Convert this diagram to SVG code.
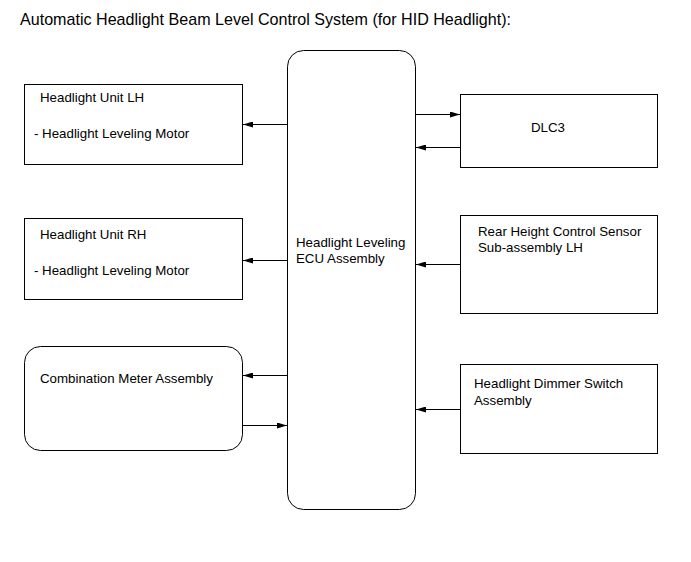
<svg xmlns="http://www.w3.org/2000/svg" width="691" height="562" viewBox="0 0 691 562">
<defs>
<marker id="ah" viewBox="0 0 10 6" refX="10" refY="3" markerWidth="10" markerHeight="6" markerUnits="userSpaceOnUse" orient="auto">
<path d="M0,0 L10,3 L0,6 Z" fill="#000"/>
</marker>
</defs>
<style>
.box{fill:#fff;stroke:#000;stroke-width:1}
.t{font-family:"Liberation Sans",Arial,sans-serif;font-size:13.3px;fill:#000}
.title{font-family:"Liberation Sans",Arial,sans-serif;font-size:16.1px;fill:#000}
.c{stroke:#000;stroke-width:1;fill:none;marker-end:url(#ah)}
</style>
<rect width="691" height="562" fill="#fff"/>
<text class="title" x="20" y="25">Automatic Headlight Beam Level Control System (for HID Headlight):</text>
<g id="ecu">
<rect class="box" x="287.5" y="50.5" width="128" height="459" rx="16" ry="16"/>
<text class="t" x="296" y="246.5">Headlight Leveling</text>
<text class="t" x="296" y="262.5">ECU Assembly</text>
</g>
<g id="headlight-lh">
<rect class="box" x="24.5" y="84.5" width="218" height="80"/>
<text class="t" x="40" y="102">Headlight Unit LH</text>
<text class="t" x="34" y="138">- Headlight Leveling Motor</text>
</g>
<g id="headlight-rh">
<rect class="box" x="24.5" y="218.5" width="218" height="81"/>
<text class="t" x="40" y="238.5">Headlight Unit RH</text>
<text class="t" x="34" y="274.5">- Headlight Leveling Motor</text>
</g>
<g id="combination-meter">
<rect class="box" x="24.5" y="346.5" width="218" height="104" rx="16" ry="16"/>
<text class="t" x="40" y="382.5">Combination Meter Assembly</text>
</g>
<g id="dlc3">
<rect class="box" x="460.5" y="94.5" width="197" height="73"/>
<text class="t" x="531" y="131.5">DLC3</text>
</g>
<g id="rear-height-sensor">
<rect class="box" x="460.5" y="215.5" width="197" height="98"/>
<text class="t" x="478" y="236">Rear Height Control Sensor</text>
<text class="t" x="478" y="252">Sub-assembly LH</text>
</g>
<g id="dimmer-switch">
<rect class="box" x="460.5" y="364.5" width="197" height="89"/>
<text class="t" x="474" y="388">Headlight Dimmer Switch</text>
<text class="t" x="474" y="404.5">Assembly</text>
</g>
<g id="connectors">
<line class="c" x1="287" y1="124.5" x2="243" y2="124.5"/>
<line class="c" x1="287" y1="260.5" x2="243" y2="260.5"/>
<line class="c" x1="287" y1="375.5" x2="243" y2="375.5"/>
<line class="c" x1="243" y1="425.5" x2="287" y2="425.5"/>
<line class="c" x1="416" y1="114.5" x2="460" y2="114.5"/>
<line class="c" x1="460" y1="147.5" x2="416" y2="147.5"/>
<line class="c" x1="460" y1="264.5" x2="416" y2="264.5"/>
<line class="c" x1="460" y1="409.5" x2="416" y2="409.5"/>
</g>
</svg>
